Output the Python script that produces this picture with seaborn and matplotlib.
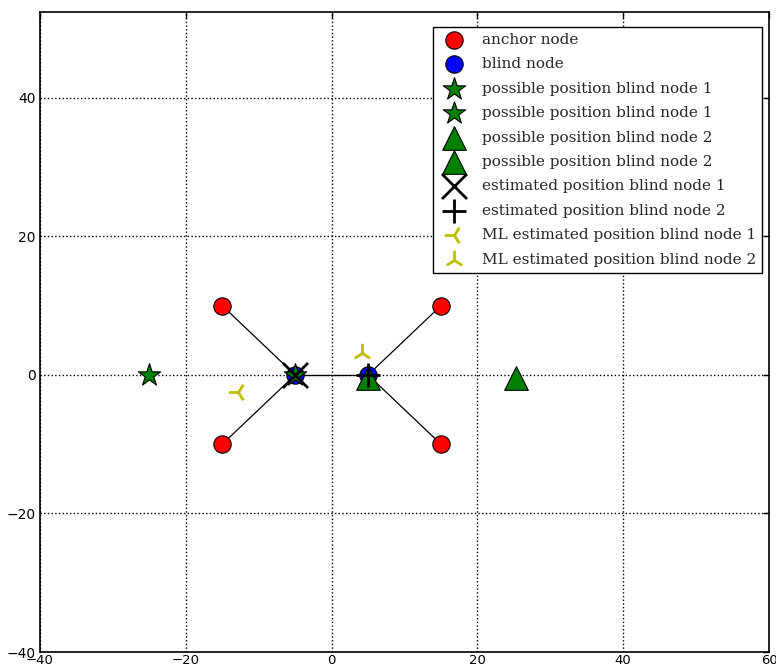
import matplotlib
matplotlib.use("Agg")
import matplotlib.pyplot as plt
import seaborn as sns
import pandas as pd

# data
anchor_x = [-15, -15, 15, 15]
anchor_y = [10, -10, 10, -10]
blind_x = [-5, 5]
blind_y = [0, 0]
poss1_a = (-25, 0)
poss1_b = (-5, 0)
poss2_a = (25.3, -0.5)
poss2_b = (5, -0.5)
est1 = (-5, 0)
est2 = (5, 0)
ml1 = (-12.8, -2.5)
ml2 = (4.2, 3.1)
links = [((-15, 10), (-5, 0)), ((-15, -10), (-5, 0)), ((-5, 0), (5, 0)),
         ((15, 10), (5, 0)), ((15, -10), (5, 0))]

sns.set_style("white")
plt.rcParams['font.family'] = ['DejaVu Sans']

fig = plt.figure(figsize=(7.76, 6.68), dpi=100)
ax = fig.add_axes([40/776, 1-652/668, (769-40)/776, (652-12)/668])

for (x0, y0), (x1, y1) in links:
    ax.plot([x0, x1], [y0, y1], color='black', lw=0.9, zorder=1)

def pts(xs, ys):
    return pd.DataFrame({'x': xs, 'y': ys})

def S(ms):
    return ms**2

sns.scatterplot(data=pts(anchor_x, anchor_y), x='x', y='y', marker='o', s=S(12.5),
                color='red', edgecolor='black', linewidth=0.8, label='anchor node', ax=ax, zorder=3)
sns.scatterplot(data=pts(blind_x, blind_y), x='x', y='y', marker='o', s=S(12.5),
                color='blue', edgecolor='black', linewidth=0.8, label='blind node', ax=ax, zorder=3)
for p in [poss1_a, poss1_b]:
    sns.scatterplot(data=pts([p[0]], [p[1]]), x='x', y='y', marker='*', s=S(17),
                    color='green', edgecolor='black', linewidth=0.8,
                    label='possible position blind node 1', ax=ax, zorder=4)
for p in [poss2_a, poss2_b]:
    sns.scatterplot(data=pts([p[0]], [p[1]]), x='x', y='y', marker='^', s=S(17),
                    color='green', edgecolor='black', linewidth=0.8,
                    label='possible position blind node 2', ax=ax, zorder=4)
sns.scatterplot(data=pts([est1[0]], [est1[1]]), x='x', y='y', marker='x', s=S(18),
                color='black', linewidth=2, label='estimated position blind node 1', ax=ax, zorder=5)
sns.scatterplot(data=pts([est2[0]], [est2[1]]), x='x', y='y', marker='+', s=S(17),
                color='black', linewidth=2, label='estimated position blind node 2', ax=ax, zorder=5)
sns.scatterplot(data=pts([ml1[0]], [ml1[1]]), x='x', y='y', marker='3', s=S(14),
                color='#bfbf00', linewidth=2, label='ML estimated position blind node 1', ax=ax, zorder=5)
sns.scatterplot(data=pts([ml2[0]], [ml2[1]]), x='x', y='y', marker='2', s=S(14),
                color='#bfbf00', linewidth=2, label='ML estimated position blind node 2', ax=ax, zorder=5)

ax.set_xlim(-40, 60)
ax.set_ylim(-40, 52.4)
ax.set_xticks([-40, -20, 0, 20, 40, 60])
ax.set_yticks([-40, -20, 0, 20, 40])
ax.set_xlabel('')
ax.set_ylabel('')
ax.grid(True, color='black', linestyle=':', linewidth=1)
ax.tick_params(direction='in', top=True, right=True, length=4, width=1, labelsize=10, pad=3,
               colors='black')
ax.tick_params(axis='x', labelsize=9.5, pad=1.5)
for sp in ax.spines.values():
    sp.set_color('black')
    sp.set_linewidth(1.2)

leg = ax.legend(loc='upper right', bbox_to_anchor=((762-40)/729, (652-27)/640),
                frameon=True, fancybox=False, edgecolor='black',
                prop={'family': 'DejaVu Serif', 'size': 11}, borderaxespad=0,
                labelspacing=0.68, handletextpad=0.8, handlelength=2.0,
                framealpha=1, borderpad=0.4)
leg.get_frame().set_linewidth(1)

fig.savefig('out.png', dpi=100)
